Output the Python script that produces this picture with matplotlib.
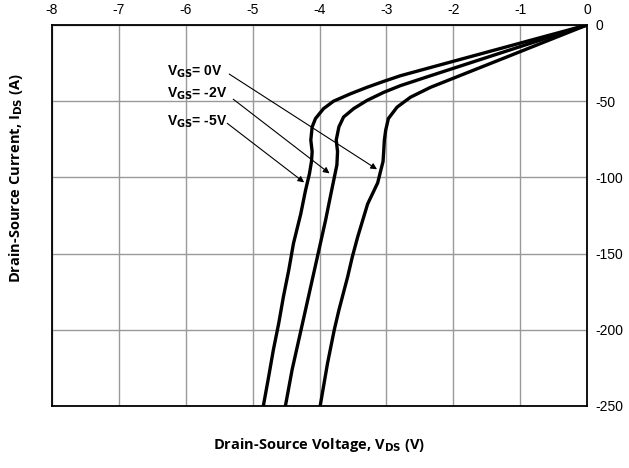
import numpy as np
import matplotlib.pyplot as plt

plt.rcParams['axes.unicode_minus'] = False
plt.rcParams['font.family'] = 'Liberation Sans'
plt.rcParams['mathtext.default'] = 'regular'

# curves (V_DS in V, I_DS in A)
vds_5v = [0, -1.0, -2.34, -2.79, -3.04, -3.29, -3.54, -3.79, -3.94, -4.06, -4.11, -4.13, -4.11, -4.12, -4.15,
          -4.21, -4.28, -4.39, -4.46, -4.54, -4.61, -4.69, -4.76, -4.84]
ids_5v = [0, -11.9, -27.9, -33.3, -37.0, -40.9, -45.2, -50.0, -54.9, -61.4, -66.9, -75.5, -83.1, -89.6, -97.5,
          -108.7, -123.9, -143.5, -160.9, -178.4, -195.8, -213.2, -230.7, -250]

vds_2v = [0, -1.0, -2.34, -2.79, -3.04, -3.29, -3.49, -3.64, -3.71, -3.75, -3.73, -3.74, -3.77,
          -3.84, -3.91, -4.01, -4.11, -4.21, -4.31, -4.41, -4.51]
ids_2v = [0, -14.2, -33.3, -39.8, -44.2, -49.5, -54.9, -60.4, -66.9, -75.5, -83.1, -91.8, -98.2,
          -113.1, -128.3, -147.9, -167.5, -187.1, -206.7, -226.3, -250]

vds_0v = [0, -1.2, -2.34, -2.64, -2.84, -2.97, -3.01, -3.03, -3.04, -3.05, -3.09, -3.13,
          -3.28, -3.43, -3.51, -3.58, -3.71, -3.78, -3.88, -3.99]
ids_0v = [0, -21.0, -40.9, -47.4, -53.9, -61.4, -69.0, -75.5, -83.1, -89.6, -96.5, -103.6,
          -117.4, -139.2, -152.3, -165.4, -187.1, -200.2, -222, -250]

labels = ['= 0V', '= -2V', '= -5V']
label_y = [-30.9, -45.4, -63.8]
arrow_from = [(-5.35, -32.2), (-5.29, -48.7), (-5.38, -64.5)]
arrow_to = [(-3.14, -94.7), (-3.85, -97.4), (-4.23, -103.3)]

fig = plt.figure(figsize=(6.29, 4.68), dpi=100)
ax = fig.add_axes([0.0827, 0.1325, 0.8505, 0.8141])

for v, i in [(vds_5v, ids_5v), (vds_2v, ids_2v), (vds_0v, ids_0v)]:
    ax.plot(v, i, 'k-', lw=2.4, solid_joinstyle='round', solid_capstyle='round')

ax.set_xlim(-8, 0)
ax.set_ylim(-250, 0)
ax.set_xticks(np.arange(-8, 1, 1))
ax.set_yticks(np.arange(-250, 1, 50))
ax.xaxis.tick_top()
ax.yaxis.tick_right()
ax.tick_params(length=0, labelsize=10, pad=6)
ax.grid(True, color='#999999', lw=1)
ax.set_axisbelow(True)
for s in ax.spines.values():
    s.set_linewidth(1.3)

for lab, y, a, b in zip(labels, label_y, arrow_from, arrow_to):
    ax.text(-6.28, y, r'V$_{\mathbf{GS}}$' + lab, fontsize=10, fontweight='bold',
            va='center', ha='left')
    ax.annotate('', xy=b, xytext=a,
                arrowprops=dict(arrowstyle='-|>', color='k', lw=0.8,
                                mutation_scale=9, shrinkA=0, shrinkB=0))

fig.text(0.507, 0.049, r'Drain-Source Voltage, V$_{\mathbf{DS}}$ (V)', ha='center', va='center',
         fontsize=10.5, fontweight='bold', family='Open Sans')
fig.text(0.025, 0.62, r'Drain-Source Current, I$_{\mathbf{DS}}$ (A)', ha='center', va='center',
         rotation=90, fontsize=10.5, fontweight='bold', family='Open Sans')

fig.savefig('out.png', dpi=100)
